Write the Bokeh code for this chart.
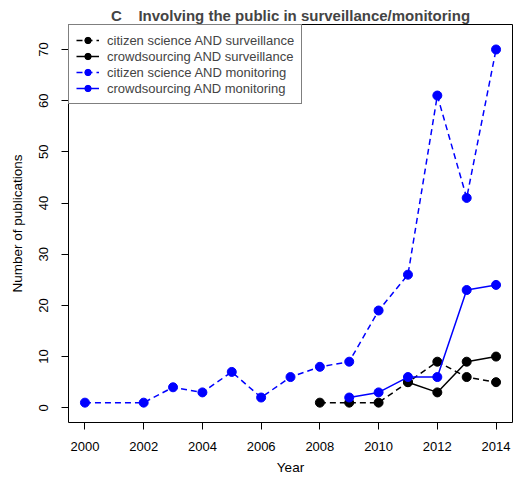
from bokeh.plotting import figure
from bokeh.models import Legend, LegendItem, Range1d, FixedTicker
from bokeh.embed import file_html
from bokeh.resources import INLINE

# Data
cs_surv_years = [2008, 2009, 2010, 2011, 2012, 2013, 2014]
cs_surv_vals = [1, 1, 1, 5, 9, 6, 5]
cr_surv_years = [2011, 2012, 2013, 2014]
cr_surv_vals = [5, 3, 9, 10]
cs_mon_years = [2000, 2002, 2003, 2004, 2005, 2006, 2007, 2008, 2009, 2010, 2011, 2012, 2013, 2014]
cs_mon_vals = [1, 1, 4, 3, 7, 2, 6, 8, 9, 19, 26, 61, 41, 70]
cr_mon_years = [2009, 2010, 2011, 2012, 2013, 2014]
cr_mon_vals = [2, 3, 6, 6, 23, 24]

x_ticks = [2000, 2002, 2004, 2006, 2008, 2010, 2012, 2014]
y_ticks = [0, 10, 20, 30, 40, 50, 60, 70]

labels = ["citizen science AND surveillance", "crowdsourcing AND surveillance",
          "citizen science AND monitoring", "crowdsourcing AND monitoring"]

FONT = "Liberation Sans"

p = figure(width=514, height=477, output_backend="svg", toolbar_location=None,
           x_range=Range1d(1999.44, 2014.56), y_range=Range1d(-2.88, 74.88),
           min_border_left=68, min_border_right=2, min_border_top=24, min_border_bottom=54)

p.title.text = "C\u00a0\u00a0\u00a0\u00a0Involving the public in surveillance/monitoring"
p.title.align = "center"
p.title.text_font = FONT
p.title.text_font_size = "15px"
p.title.text_font_style = "bold"
p.title.standoff = 1
p.title.offset = 0

p.xgrid.visible = False
p.ygrid.visible = False
p.outline_line_color = "black"
p.outline_line_width = 1
p.background_fill_color = "white"
p.border_fill_color = "white"

for ax in (p.xaxis[0], p.yaxis[0]):
    ax.axis_line_color = None
    ax.major_tick_in = 0
    ax.major_tick_out = 7
    ax.major_tick_line_color = "black"
    ax.minor_tick_line_color = None
    ax.major_label_text_font = FONT
    ax.major_label_text_font_size = "13px"
    ax.major_label_text_color = "black"
    ax.axis_label_text_font = FONT
    ax.axis_label_text_font_size = "13.5px"
    ax.axis_label_text_font_style = "normal"
    ax.axis_label_text_color = "black"

p.xaxis.ticker = FixedTicker(ticks=x_ticks)
p.yaxis.ticker = FixedTicker(ticks=y_ticks)
p.xaxis.axis_label = "Year"
p.yaxis.axis_label = "Number of publications"
p.xaxis.major_label_standoff = 12
p.xaxis.axis_label_standoff = 6
p.yaxis.major_label_orientation = "vertical"
p.yaxis.major_label_standoff = 13
p.yaxis.axis_label_standoff = 12

series = [
    (cs_surv_years, cs_surv_vals, "black", "6 4"),
    (cr_surv_years, cr_surv_vals, "black", "solid"),
    (cs_mon_years, cs_mon_vals, "#0000FF", "6 4"),
    (cr_mon_years, cr_mon_vals, "#0000FF", "solid"),
]

items = []
for (xs, ys, col, dash), lab in zip(series, labels):
    r1 = p.line(xs, ys, line_color=col, line_width=1.5, line_dash=dash)
    r2 = p.scatter(xs, ys, size=9, fill_color=col, line_color=col)
    items.append(LegendItem(label=lab, renderers=[r1, r2]))

legend = Legend(items=items, location="top_left", margin=0, padding=7, spacing=0,
                label_height=16, glyph_height=16, glyph_width=23, label_standoff=8,
                border_line_color="black", border_line_width=1,
                background_fill_color="white", background_fill_alpha=1,
                label_text_font=FONT, label_text_font_size="13px")
p.add_layout(legend)

open("out.html", "w").write(file_html(p, INLINE))
